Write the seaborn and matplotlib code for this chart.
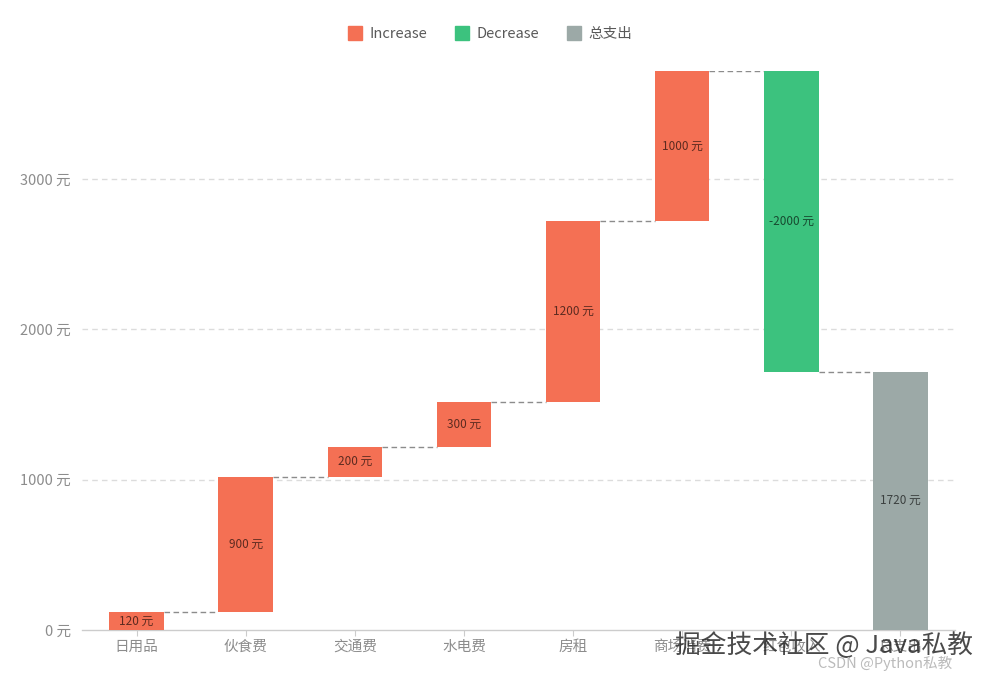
import numpy as np
import pandas as pd
import matplotlib
matplotlib.use("Agg")
import matplotlib.pyplot as plt
import seaborn as sns
from matplotlib.lines import Line2D

# Data
categories = ['日用品', '伙食费', '交通费', '水电费', '房租', '商场消费', '红包收入']
money = [120, 900, 200, 300, 1200, 1000, -2000]
total_label = '总支出'

colors = {'Increase': '#f47054', 'Decrease': '#3cc27e', 'total': '#9ca9a7'}

# Build waterfall table
cum = np.cumsum(money)
starts = np.concatenate([[0], cum[:-1]])
df = pd.DataFrame({
    'type': categories + [total_label],
    'bottom': list(np.minimum(starts, cum)) + [0],
    'height': list(np.abs(money)) + [cum[-1]],
    'value': money + [int(cum[-1])],
    'kind': ['Increase' if m >= 0 else 'Decrease' for m in money] + ['total'],
})

sns.set_style('white')
plt.rcParams['font.family'] = ['Noto Sans CJK SC', 'DejaVu Sans']

fig = plt.figure(figsize=(9.88, 6.8), dpi=100)
ax = fig.add_axes([82 / 988, 50 / 680, 873 / 988, 559 / 680])

sns.barplot(data=df, x='type', y='height', bottom=df['bottom'], width=0.5,
            color=colors['Increase'], ax=ax, linewidth=0, saturation=1)
for patch, kind in zip(ax.patches, df['kind']):
    patch.set_facecolor(colors[kind])
    patch.set_zorder(3)

# connectors
for i, v in enumerate(cum):
    ax.plot([i + 0.25, i + 0.75], [v, v], color='#8c8c8c', lw=1,
            ls=(0, (4, 2.5)), zorder=2)

# value labels
for i, row in df.iterrows():
    ax.text(i, row['bottom'] + row['height'] / 2, f"{row['value']} 元",
            ha='center', va='center', fontsize=8.5, color='black', alpha=0.62, zorder=4)

ax.set_ylim(0, 3720)
ax.set_xlim(-0.5, len(df) - 0.5)
ax.set_yticks([0, 1000, 2000, 3000])
ax.set_yticklabels([f"{t} 元" for t in [0, 1000, 2000, 3000]])
ax.yaxis.grid(True, color='#dcdcdc', ls=(0, (4, 3)), lw=1)
ax.xaxis.grid(False)
ax.set_axisbelow(True)
for s in ['top', 'right', 'left']:
    ax.spines[s].set_visible(False)
ax.spines['bottom'].set_color('#cccccc')
ax.spines['bottom'].set_linewidth(1)
ax.tick_params(axis='y', length=0, labelsize=10.5, labelcolor='#8c8c8c', pad=8)
ax.tick_params(axis='x', length=4, color='#cccccc', labelsize=10.5, labelcolor='#8c8c8c',
               bottom=True, direction='out', pad=3)
ax.set_xlabel('')
ax.set_ylabel('')

# hide the gridline at 0 under axis
ax.get_ygridlines()[0].set_visible(False)

handles = [Line2D([], [], marker='s', ls='', markersize=9.5, color=colors[k])
           for k in ['Increase', 'Decrease', 'total']]
fig.legend(handles, ['Increase', 'Decrease', total_label], loc='center',
           bbox_to_anchor=(490 / 988, 1 - 34 / 680), ncol=3, frameon=False,
           fontsize=10.5, labelcolor='#595959', handletextpad=0.5, columnspacing=1.9,
           handlelength=1.0)

# watermarks
fig.text(675 / 988, 1 - 646 / 680, '掘金技术社区 @ Java私教', fontsize=18.5,
         color='#2a2a2a', va='center', ha='left', alpha=0.85)
fig.text(818 / 988, 1 - 663 / 680, 'CSDN @Python私教', fontsize=10.5,
         color='#bbbbbb', va='center', ha='left')

fig.savefig('out.png', dpi=100)
